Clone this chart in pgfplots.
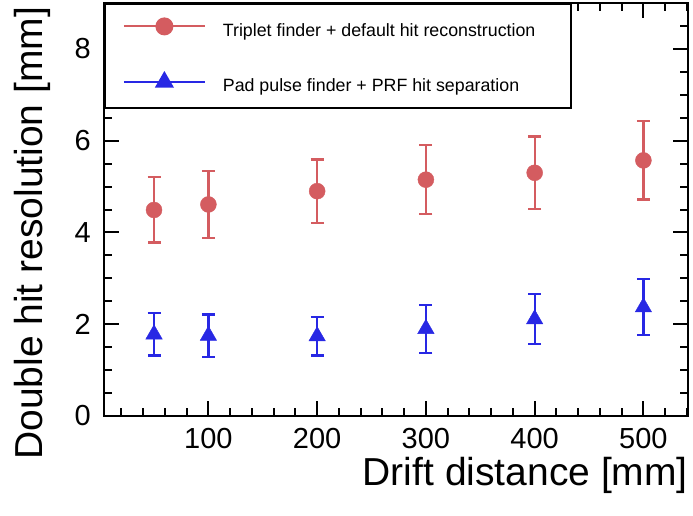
\documentclass[border=0pt]{standalone}
\usepackage{fontspec}
\setmainfont{Liberation Sans}
\usepackage{pgfplots}
\pgfplotsset{compat=1.18}
\definecolor{rc}{RGB}{212,92,96}
\definecolor{bc}{RGB}{40,40,228}
\begin{document}
\begin{tikzpicture}
\begin{axis}[
 at={(0,0)}, anchor=south west,
 scale only axis, width=584pt, height=413pt,
 xmin=4, xmax=541, ymin=0, ymax=9,
 xtick={100,200,300,400,500}, ytick={0,2,4,6,8},
 minor xtick={20,40,60,80,120,140,160,180,220,240,260,280,320,340,360,380,420,440,460,480,520,540},
 minor ytick={0.5,1,1.5,2.5,3,3.5,4.5,5,5.5,6.5,7,7.5,8.5},
 tick align=inside, major tick length=15pt, minor tick length=8pt,
 axis line style={line width=2.5pt},
 every tick/.style={black, line width=2pt},
 tick label style={font=\fontsize{29}{31}\selectfont, inner sep=0pt},
 xticklabel style={yshift=-12pt},
 yticklabel style={xshift=-13pt},
 /pgf/number format/assume math mode=true,
 xlabel={Drift distance [mm]}, ylabel={Double hit resolution [mm]},
 label style={font=\fontsize{39}{42}\selectfont},
 xlabel style={at={(axis description cs:1,-0.168)}, anchor=base east, inner sep=0pt},
 ylabel style={at={(axis description cs:-0.1045,-0.1065)}, anchor=base west, inner sep=0pt},
 legend style={at={(axis description cs:0,1)}, anchor=north west, draw=black, line width=1.8pt,
   inner xsep=18pt, inner ysep=14.5pt, row sep=35pt, column sep=17pt,
   font=\fontsize{17.8}{20}\selectfont, nodes={inner sep=0pt}},
 legend cell align=left,
 legend image code/.code={\draw[mark repeat=2,mark phase=2,#1] plot coordinates {(0pt,4pt) (40.5pt,4pt) (81pt,4pt)};},
]
\addplot[rc, only marks, mark=*, mark size=8pt, forget plot,
  error bars/.cd, y dir=both, y explicit,
  error bar style={line width=2.2pt, rc},
  error mark options={rotate=90, mark size=6.5pt, line width=2.2pt, rc}]
 table[x=x, y=y, y error=e] {
x y e
50 4.49 0.71
100 4.61 0.73
200 4.90 0.69
300 5.15 0.75
400 5.30 0.79
500 5.57 0.85
};
\addplot[bc, only marks, mark=triangle*, mark size=9.5pt, forget plot,
  error bars/.cd, y dir=both, y explicit,
  error bar style={line width=2.2pt, bc},
  error mark options={rotate=90, mark size=6.5pt, line width=2.2pt, bc}]
 table[x=x, y=y, y error=e] {
x y e
50 1.78 0.46
100 1.75 0.46
200 1.74 0.42
300 1.90 0.52
400 2.11 0.54
500 2.37 0.61
};
\addlegendimage{rc, line width=2pt, mark=*, mark size=8pt, mark options={solid}}
\addlegendentry{\makebox[330pt][l]{Triplet finder + default hit reconstruction}}
\addlegendimage{bc, line width=1.6pt, mark=triangle*, mark size=9.5pt, mark options={solid}}
\addlegendentry{\makebox[330pt][l]{Pad pulse finder + PRF hit separation}}
\end{axis}
\pgfresetboundingbox
\path (-104pt,-100pt) rectangle (589pt,416pt);
\end{tikzpicture}
\end{document}
